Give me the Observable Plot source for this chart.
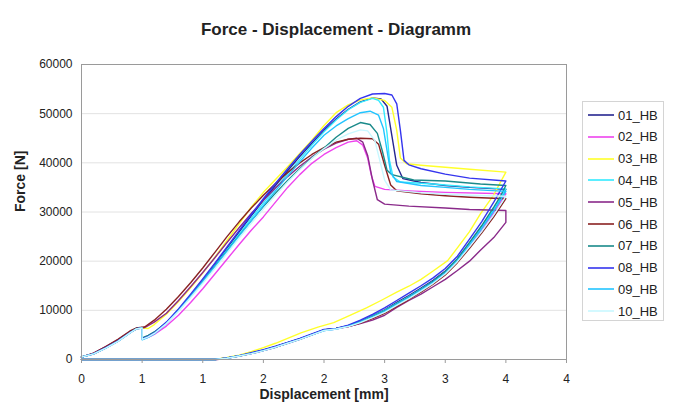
<!DOCTYPE html>
<html>
<head>
<meta charset="utf-8">
<script src="https://cdn.jsdelivr.net/npm/d3@7"></script>
<script src="https://cdn.jsdelivr.net/npm/@observablehq/plot@0.6"></script>
<style>
  html, body { margin: 0; padding: 0; background: #fff; }
  #wrap { position: relative; width: 673px; height: 412px; font-family: "Liberation Sans", Arial, sans-serif; }
  #legend { position: absolute; left: 582px; top: 101px; width: 82px; height: 220px; border: 1px solid #d4d4d4; box-sizing: border-box; background: #fff; }
  .item { position: absolute; left: 5px; height: 20px; display: flex; align-items: center; font-size: 13px; color: #222; }
  .item svg { margin-right: 4px; }
</style>
</head>
<body>
<div id="wrap"><div id="legend"></div></div>
<script>
const title = "Force - Displacement - Diagramm";
const xLabel = "Displacement [mm]";
const yLabel = "Force [N]";
const seriesNames = ["01_HB","02_HB","03_HB","04_HB","05_HB","06_HB","07_HB","08_HB","09_HB","10_HB"];
const seriesColors = ["#262690","#ee44ee","#ffff2a","#33eaff","#8a2a8a","#8a2222","#1a8a8a","#3535ee","#22c4ff","#c8f8ff"];
const xTickValues = [0,0.5,1,1.5,2,2.5,3,3.5,4];
const xTickLabels = ["0","1","1","2","2","3","3","4","4"];
const yTickValues = [0,10000,20000,30000,40000,50000,60000];

const s01 = [[0,500],[0.1,1200],[0.2,2400],[0.3,3800],[0.4,5500],[0.45,6300],[0.5,6500],[0.5,4300],[0.55,4800],[0.6,5500],[0.7,7400],[0.8,10000],[0.9,13000],[1.0,16100],[1.1,19300],[1.2,22600],[1.3,25900],[1.4,29200],[1.5,32400],[1.6,35400],[1.7,38400],[1.8,41300],[1.9,44000],[2.0,46600],[2.1,48900],[2.2,50900],[2.3,52400],[2.4,53200],[2.47,53000],[2.52,51500],[2.56,45500],[2.6,39500],[2.65,36800],[2.8,36000],[3.0,35400],[3.2,35000],[3.5,34600],
  [3.4,30500],[3.3,26800],[3.2,23600],[3.1,20400],[3.0,18000],[2.9,16100],[2.8,14500],[2.7,13000],[2.6,11600],[2.5,10100],[2.4,8900],[2.3,7800],[2.2,6900],[2.1,6300],[2.0,6000],[1.9,5100],[1.8,4200],[1.7,3400],[1.6,2600],[1.5,1900],[1.4,1300],[1.3,750],[1.2,300],[1.1,0],[0,0]];
const s02 = [[0,500],[0.1,1100],[0.2,2300],[0.3,3700],[0.4,5400],[0.45,6200],[0.5,6400],[0.5,4100],[0.55,4500],[0.6,5100],[0.7,6800],[0.8,9000],[0.9,11600],[1.0,14400],[1.1,17400],[1.2,20400],[1.3,23400],[1.4,26300],[1.5,29000],[1.6,32000],[1.7,35000],[1.8,37600],[1.9,39900],[2.0,41700],[2.1,43100],[2.2,44200],[2.27,44500],[2.32,43600],[2.36,41000],[2.39,37500],[2.42,35200],[2.5,34600],[2.7,34300],[3.0,34000],[3.5,33700],
  [3.4,29800],[3.3,26300],[3.2,23100],[3.1,20000],[3.0,17500],[2.9,15500],[2.8,13900],[2.7,12400],[2.6,11000],[2.5,9600],[2.4,8400],[2.3,7400],[2.2,6700],[2.1,6200],[2.0,5900],[1.9,5000],[1.8,4100],[1.7,3300],[1.6,2500],[1.5,1800],[1.4,1200],[1.3,700],[1.2,250],[1.1,0],[0,0]];
const s03 = [[0,500],[0.1,1200],[0.2,2400],[0.3,3800],[0.4,5500],[0.46,6300],[0.5,6400],[0.55,6300],[0.6,7100],[0.7,9200],[0.8,11800],[0.9,14600],[1.0,17600],[1.1,20800],[1.2,24200],[1.3,27600],[1.4,31000],[1.5,34000],[1.6,36600],[1.7,39200],[1.8,41900],[1.9,44600],[2.0,47600],[2.1,50200],[2.2,51800],[2.3,52800],[2.4,53200],[2.5,52700],[2.56,51300],[2.6,46600],[2.63,41000],[2.68,39800],[2.8,39500],[3.0,39100],[3.2,38700],[3.5,38100],
  [3.4,33500],[3.29,29600],[3.2,26000],[3.1,22700],[3.02,20100],[2.9,18000],[2.8,16300],[2.7,14900],[2.6,13700],[2.47,12000],[2.35,10500],[2.2,8800],[2.08,7500],[1.95,6600],[1.81,5400],[1.7,4300],[1.6,3300],[1.5,2400],[1.4,1600],[1.3,900],[1.2,400],[1.1,0],[0,0]];
const s04 = [[0,500],[0.1,1150],[0.2,2350],[0.3,3750],[0.4,5450],[0.45,6250],[0.5,6450],[0.5,4200],[0.55,4700],[0.6,5400],[0.7,7500],[0.8,10100],[0.9,13000],[1.0,16000],[1.1,19100],[1.2,22300],[1.3,25500],[1.4,28700],[1.5,31800],[1.6,34800],[1.7,37800],[1.8,40700],[1.9,43600],[2.0,46300],[2.1,48700],[2.2,50800],[2.3,52300],[2.4,53100],[2.45,52700],[2.49,51300],[2.52,46000],[2.54,40500],[2.57,37100],[2.63,36100],[2.9,35700],[3.2,35100],[3.5,34700],
  [3.4,30600],[3.3,26900],[3.2,23500],[3.1,20300],[3.0,17800],[2.9,15900],[2.8,14300],[2.7,12800],[2.6,11400],[2.5,10000],[2.4,8800],[2.3,7700],[2.2,6800],[2.1,6200],[2.0,5900],[1.9,5000],[1.8,4150],[1.7,3350],[1.6,2550],[1.5,1850],[1.4,1250],[1.3,700],[1.2,280],[1.1,0],[0,0]];
const s05 = [[0,500],[0.1,1300],[0.2,2600],[0.3,4000],[0.4,5700],[0.45,6300],[0.52,6500],[0.6,7600],[0.7,9400],[0.8,12000],[0.9,14800],[1.0,17700],[1.1,20700],[1.2,23800],[1.3,26800],[1.4,29700],[1.5,32400],[1.6,34900],[1.7,37200],[1.8,39300],[1.9,41200],[2.0,42800],[2.1,44000],[2.2,44800],[2.27,45000],[2.32,44200],[2.36,41500],[2.4,36500],[2.44,32500],[2.5,31600],[2.7,31200],[3.0,30800],[3.2,30500],[3.5,30300],[3.5,27900],
  [3.4,24800],[3.29,22200],[3.2,20000],[3.1,18100],[3.0,16300],[2.9,14800],[2.8,13300],[2.7,12000],[2.6,10600],[2.5,9000],[2.4,8000],[2.3,7300],[2.2,6700],[2.1,6300],[2.0,6000],[1.9,5000],[1.8,4100],[1.7,3300],[1.6,2500],[1.5,1800],[1.4,1200],[1.3,700],[1.2,300],[1.12,0],[0,0]];
const s06 = [[0,500],[0.1,1300],[0.2,2600],[0.3,4100],[0.4,5800],[0.45,6400],[0.52,6600],[0.6,8000],[0.7,10200],[0.8,12800],[0.9,15600],[1.0,18600],[1.1,21800],[1.2,25000],[1.3,28000],[1.4,30800],[1.5,33400],[1.6,35800],[1.7,38000],[1.8,40000],[1.9,41700],[2.0,43100],[2.1,44200],[2.2,44800],[2.3,45000],[2.4,44900],[2.45,43800],[2.5,39500],[2.55,35500],[2.6,34300],[2.8,33700],[3.0,33300],[3.2,33000],[3.5,32700],
  [3.4,29000],[3.3,25700],[3.2,22600],[3.1,19700],[3.0,17200],[2.9,15300],[2.8,13700],[2.7,12200],[2.6,10800],[2.5,9400],[2.4,8300],[2.3,7400],[2.2,6700],[2.1,6300],[2.0,6000],[1.9,5050],[1.8,4150],[1.7,3350],[1.6,2550],[1.5,1850],[1.4,1250],[1.3,720],[1.2,280],[1.1,0],[0,0]];
const s07 = [[0,500],[0.1,1150],[0.2,2350],[0.3,3750],[0.4,5450],[0.45,6250],[0.5,6450],[0.5,4400],[0.55,4900],[0.6,5600],[0.7,7500],[0.8,10100],[0.9,12900],[1.0,15900],[1.1,19000],[1.2,22100],[1.3,25200],[1.4,28200],[1.5,31100],[1.6,33800],[1.7,36400],[1.8,38800],[1.9,41000],[2.0,43000],[2.1,45200],[2.2,47000],[2.3,48200],[2.38,47800],[2.44,46000],[2.48,42500],[2.52,38500],[2.56,37600],[2.74,36500],[3.0,36300],[3.29,35700],[3.5,35400],
  [3.45,33000],[3.4,31000],[3.3,27200],[3.2,23800],[3.1,20500],[3.0,17900],[2.9,15900],[2.8,14200],[2.7,12700],[2.6,11300],[2.5,9900],[2.4,8700],[2.3,7600],[2.2,6800],[2.1,6300],[2.0,6000],[1.9,5100],[1.8,4200],[1.7,3400],[1.6,2600],[1.5,1900],[1.4,1300],[1.3,750],[1.2,300],[1.1,0],[0,0]];
const s08 = [[0,500],[0.1,1200],[0.2,2400],[0.3,3800],[0.4,5500],[0.46,6300],[0.5,6400],[0.5,4200],[0.55,4700],[0.6,5400],[0.7,7600],[0.8,10300],[0.9,13300],[1.0,16400],[1.1,19600],[1.2,22900],[1.3,26200],[1.4,29500],[1.5,32700],[1.6,35800],[1.7,38800],[1.8,41700],[1.9,44400],[2.0,47000],[2.1,49400],[2.2,51500],[2.3,53100],[2.4,54000],[2.5,54100],[2.56,53800],[2.6,52000],[2.63,46600],[2.66,40500],[2.7,39600],[2.8,38800],[3.0,37700],[3.2,36900],[3.5,36300],
  [3.4,32000],[3.3,28000],[3.2,24500],[3.1,21000],[3.0,18500],[2.9,16600],[2.8,15000],[2.7,13500],[2.6,12000],[2.5,10500],[2.4,9200],[2.3,8000],[2.2,7000],[2.1,6300],[2.0,6100],[1.9,5200],[1.8,4300],[1.7,3500],[1.6,2700],[1.5,2000],[1.4,1400],[1.3,800],[1.2,300],[1.1,0],[0,0]];
const s09 = [[0,500],[0.1,1150],[0.2,2300],[0.3,3700],[0.4,5400],[0.45,6200],[0.5,6400],[0.5,4000],[0.55,4500],[0.6,5200],[0.7,7300],[0.8,9900],[0.9,12800],[1.0,15800],[1.1,18900],[1.2,22000],[1.3,25100],[1.4,28200],[1.5,31300],[1.6,34300],[1.7,37300],[1.8,40200],[1.9,43000],[2.0,45600],[2.1,47500],[2.2,49000],[2.3,50200],[2.38,50500],[2.45,49700],[2.49,47000],[2.52,42500],[2.55,38000],[2.6,36200],[2.8,35400],[3.0,35000],[3.2,34600],[3.5,34200],
  [3.4,30200],[3.3,26600],[3.2,23300],[3.1,20100],[3.0,17600],[2.9,15700],[2.8,14100],[2.7,12600],[2.6,11200],[2.5,9800],[2.4,8600],[2.3,7600],[2.2,6800],[2.1,6200],[2.0,5900],[1.9,5000],[1.8,4100],[1.7,3300],[1.6,2500],[1.5,1800],[1.4,1200],[1.3,700],[1.2,260],[1.1,0],[0,0]];
const s10 = [[0,500],[0.1,1150],[0.2,2300],[0.3,3700],[0.4,5400],[0.45,6200],[0.5,6400],[0.5,4100],[0.55,4600],[0.6,5300],[0.7,7300],[0.8,9800],[0.9,12600],[1.0,15500],[1.1,18500],[1.2,21600],[1.3,24700],[1.4,27700],[1.5,30600],[1.6,33400],[1.7,36100],[1.8,38600],[1.9,40900],[2.0,42900],[2.1,44600],[2.2,45900],[2.3,46700],[2.36,46500],[2.42,44500],[2.46,40500],[2.5,36500],[2.55,34500],[2.8,33900],[3.0,33600],[3.2,33400],[3.5,33200],
  [3.4,29400],[3.3,26000],[3.2,22900],[3.1,19900],[3.0,17400],[2.9,15500],[2.8,13900],[2.7,12400],[2.6,11000],[2.5,9600],[2.4,8500],[2.3,7500],[2.2,6700],[2.1,6200],[2.0,5900],[1.9,5000],[1.8,4100],[1.7,3300],[1.6,2500],[1.5,1800],[1.4,1200],[1.3,700],[1.2,260],[1.1,0],[0,0]];

const seriesData = [s01,s02,s03,s04,s05,s06,s07,s08,s09,s10];
const rows = seriesData.flatMap((s, k) => s.map(([x, y], i) => ({series: seriesNames[k], x, y, i})));

const font = '"Liberation Sans", Arial, sans-serif';
const chart = Plot.plot({
  width: 673,
  height: 412,
  marginLeft: 81,
  marginRight: 107,
  marginTop: 64,
  marginBottom: 53,
  style: {fontFamily: font, fontSize: "12px", color: "#222", background: "transparent"},
  x: {domain: [0, 4]},
  y: {domain: [0, 60000]},
  color: {domain: seriesNames, range: seriesColors},
  marks: [
    Plot.gridY(yTickValues.filter(d => d > 0 && d < 60000), {stroke: "#e2e2e2", strokeOpacity: 1}),
    Plot.line(rows, {x: "x", y: "y", z: "series", stroke: "series", strokeWidth: 1.4, strokeLinejoin: "round"}),
    Plot.frame({stroke: "#9a9a9a"}),
    Plot.axisX({ticks: xTickValues, tickFormat: d => xTickLabels[xTickValues.indexOf(d)], tickSize: 4, tickPadding: 11, stroke: "#9a9a9a", fill: "#222", label: null}),
    Plot.axisY({ticks: yTickValues, tickFormat: d => String(d), tickSize: 0, tickPadding: 9, fill: "#222", label: null}),
    Plot.text([yLabel], {frameAnchor: "left", dx: -61, rotate: -90, fontWeight: "bold", fontSize: 14, fill: "#222"}),
    Plot.text([xLabel], {frameAnchor: "bottom", dy: 39, fontWeight: "bold", fontSize: 14, fill: "#222"}),
    Plot.text([title], {frameAnchor: "top", dx: 12, dy: -42, fontWeight: "bold", fontSize: 17, fill: "#222"})
  ]
});
const wrap = document.getElementById("wrap");
wrap.insertBefore(chart, wrap.firstChild);

const legend = document.getElementById("legend");
seriesNames.forEach((name, k) => {
  const item = document.createElement("div");
  item.className = "item";
  item.style.top = (3 + k * 21.8) + "px";
  item.innerHTML = `<svg width="26" height="4"><line x1="0" y1="2" x2="26" y2="2" stroke="${seriesColors[k]}" stroke-width="1.6"/></svg><span>${name}</span>`;
  legend.appendChild(item);
});
</script>
</body>
</html>
